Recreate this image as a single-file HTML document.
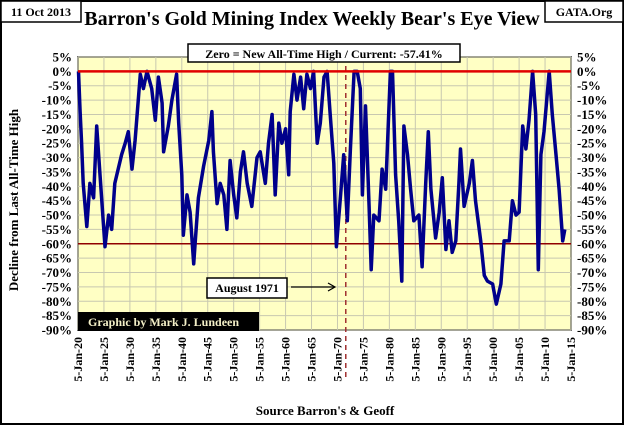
<!DOCTYPE html>
<html><head><meta charset="utf-8"><style>
html,body{margin:0;padding:0;background:#fff}
svg{display:block;font-family:"Liberation Serif",serif;font-weight:bold}
</style></head><body>
<svg id="c" width="624" height="425" viewBox="0 0 624 425">
<rect x="1" y="1" width="622" height="423" fill="#fff" stroke="#000" stroke-width="2"/>
<g id="plot"></g>
<text x="312" y="25" font-size="20" text-anchor="middle">Barron's Gold Mining Index Weekly Bear's Eye View</text>
<rect x="1" y="1" width="80" height="21" fill="#fff" stroke="#000" stroke-width="1.5"/>
<text x="41" y="16" font-size="12" text-anchor="middle">11 Oct 2013</text>
<rect x="545" y="1" width="78" height="21" fill="#fff" stroke="#000" stroke-width="1.5"/>
<text x="584" y="16" font-size="12" text-anchor="middle">GATA.Org</text>
<rect x="188" y="44" width="272" height="18" fill="#fff" stroke="#000" stroke-width="1.5"/>
<text x="324" y="58" font-size="12" text-anchor="middle">Zero = New All-Time High / Current: -57.41%</text>
<rect x="207" y="278" width="80" height="20" fill="#fff" stroke="#000" stroke-width="1.5"/>
<text x="247" y="292" font-size="12" text-anchor="middle">August 1971</text>
<line x1="291" y1="287" x2="334" y2="287" stroke="#000" stroke-width="1.2"/>
<polyline points="328,283 335,287 328,291" fill="none" stroke="#000" stroke-width="1.2"/>
<rect x="78" y="312" width="181" height="19" fill="#000"/>
<text x="88" y="326" font-size="12" fill="#f4f0c8">Graphic by Mark J. Lundeen</text>
<text transform="translate(18,200) rotate(-90)" font-size="13" text-anchor="middle">Decline from Last All-Time High</text>
<text x="325" y="415" font-size="13" text-anchor="middle">Source Barron's &amp; Geoff</text>
</svg>
<script>
const years=[1920.1,1920.4,1920.7,1921.0,1921.7,1922.3,1923.0,1923.6,1924.2,1925.2,1925.9,1926.5,1927.1,1928.4,1929.1,1929.7,1930.4,1931.0,1932.0,1932.6,1933.3,1934.2,1934.9,1935.5,1936.2,1936.5,1937.4,1938.1,1938.7,1939.0,1939.4,1940.0,1940.3,1941.0,1941.6,1942.3,1942.6,1943.2,1944.2,1945.2,1945.8,1946.1,1946.8,1947.4,1948.1,1948.7,1949.3,1950.0,1950.6,1951.3,1951.9,1952.6,1953.5,1954.5,1955.1,1956.1,1956.7,1957.4,1958.0,1958.7,1959.3,1960.0,1960.6,1960.9,1961.6,1962.2,1962.9,1963.5,1964.1,1964.8,1965.4,1966.1,1966.7,1967.4,1968.0,1968.6,1969.3,1969.8,1970.6,1971.2,1971.9,1972.5,1973.2,1973.8,1974.4,1974.8,1975.4,1976.1,1976.5,1977.0,1978.0,1978.6,1979.3,1980.2,1980.6,1981.2,1981.8,1982.4,1982.8,1983.5,1984.1,1984.7,1985.7,1986.3,1987.0,1987.5,1988.0,1988.9,1989.6,1990.2,1990.9,1991.5,1992.1,1992.8,1993.4,1993.7,1994.4,1995.4,1996.0,1996.6,1997.6,1998.3,1998.9,1999.9,2000.6,2001.5,2002.1,2003.1,2003.7,2004.4,2005.0,2005.7,2006.3,2006.9,2007.6,2008.2,2008.7,2009.2,2009.8,2010.8,2011.4,2012.1,2012.7,2013.4,2013.8];
const values=[0,-14,-25,-39,-54,-39,-44,-19,-35,-61,-50,-55,-39,-29,-25,-21,-34,-24,-1,-6,0,-6,-17,-2,-11,-28,-19,-10,-4,-1,-18,-36,-57,-43,-49,-67,-59,-44,-33,-24,-14,-28,-46,-39,-43,-55,-31,-43,-51,-35,-28,-39,-47,-30,-28,-39,-25,-15,-43,-18,-25,-20,-36,-14,-1,-10,-2,-13,-1,-6,0,-25,-18,-2,0,-15,-32,-61,-43,-29,-52,-27,0,0,-6,-43,-12,-47,-69,-50,-52,-34,-41,0,0,-36,-52,-73,-19,-29,-41,-52,-50,-68,-39,-21,-41,-58,-49,-37,-62,-52,-63,-59,-39,-27,-47,-39,-31,-45,-59,-71,-73,-74,-81,-74,-59,-59,-45,-50,-49,-19,-27,-17,0,-15,-69,-29,-21,0,-15,-29,-41,-59,-55];
const yTicks=[5,0,-5,-10,-15,-20,-25,-30,-35,-40,-45,-50,-55,-60,-65,-70,-75,-80,-85,-90];
const xTickYears=[1920,1925,1930,1935,1940,1945,1950,1955,1960,1965,1970,1975,1980,1985,1990,1995,2000,2005,2010,2015];
const xTickLabels=["5-Jan-20","5-Jan-25","5-Jan-30","5-Jan-35","5-Jan-40","5-Jan-45","5-Jan-50","5-Jan-55","5-Jan-60","5-Jan-65","5-Jan-70","5-Jan-75","5-Jan-80","5-Jan-85","5-Jan-90","5-Jan-95","5-Jan-00","5-Jan-05","5-Jan-10","5-Jan-15"];
const markerYear=1971.6;

const X0=78,X1=571,Y0=57,Y1=330;
const sx=y=>X0+(y-1920)/(2015-1920)*(X1-X0);
const sy=v=>Y0+(5-v)/95*(Y1-Y0);
const NS="http://www.w3.org/2000/svg";
const g=document.getElementById('plot');
function mk(t,a){const e=document.createElementNS(NS,t);for(const k in a)e.setAttribute(k,a[k]);g.appendChild(e);return e;}
let e=mk('rect',{x:X0,y:Y0,width:X1-X0,height:Y1-Y0,fill:'#ffffc4',stroke:'#000','stroke-width':1.5});


yTicks.forEach(v=>{
  const y=sy(v);
  const l=mk('line',{x1:X0,x2:X1,y1:y,y2:y,stroke:'#c8c8b0','stroke-width':1});
  
  
  const t1=mk('text',{x:X0-6,y:y+4.5,'font-size':13,'text-anchor':'end'});t1.textContent=v+'%';
  
  
  const t2=mk('text',{x:X1+6,y:y+4.5,'font-size':13});t2.textContent=v+'%';
  
  
});
xTickYears.forEach((yr,i)=>{
  const x=sx(yr);
  const l=mk('line',{x1:x,x2:x,y1:Y0,y2:Y1,stroke:'#c8c8b0','stroke-width':1});
  
  
  const t=mk('text',{transform:`translate(${x+4},337) rotate(-90)`,'font-size':12,'text-anchor':'end'});
  t.textContent=xTickLabels[i];
  
  
});
e=mk('line',{x1:X0,x2:X1,y1:sy(-60),y2:sy(-60),stroke:'#900000','stroke-width':1.5});


e=mk('line',{x1:sx(markerYear),x2:sx(markerYear),y1:Y0,y2:378,stroke:'#a03030','stroke-width':1.5,'stroke-dasharray':'5,4'});


e=mk('polyline',{points:years.map((y,i)=>sx(y).toFixed(1)+','+sy(values[i]).toFixed(1)).join(' '),fill:'none',stroke:'#00008b','stroke-width':3.5,'stroke-linejoin':'round'});


e=mk('line',{x1:X0,x2:X1,y1:sy(0),y2:sy(0),stroke:'#e00000','stroke-width':2.5});


</script>
</body></html>
